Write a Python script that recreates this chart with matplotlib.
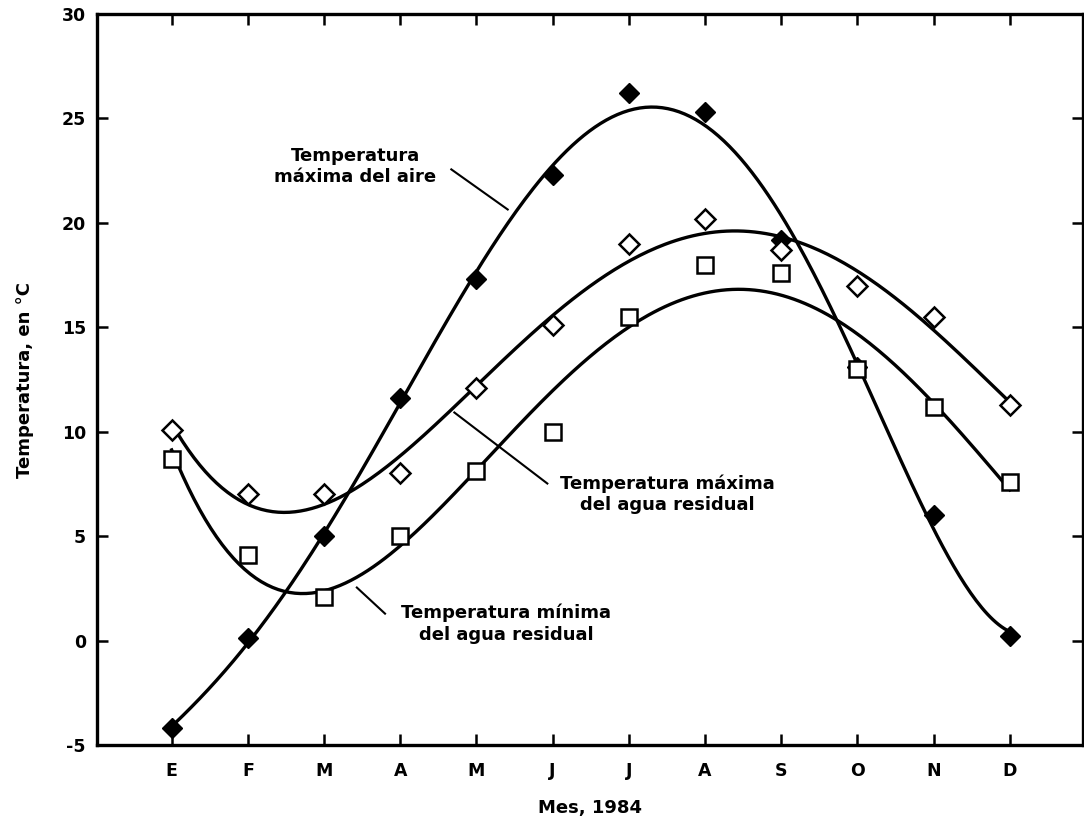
import numpy as np
import matplotlib

matplotlib.use("Agg")

import matplotlib.pyplot as plt

plt.rcParams["font.family"] = ["DejaVu Sans"]
plt.rcParams["font.weight"] = "bold"
plt.rcParams["axes.labelweight"] = "bold"
plt.rcParams["axes.unicode_minus"] = False

meses = ["E", "F", "M", "A", "M", "J", "J", "A", "S", "O", "N", "D"]

# monthly temperatures, 1984 (degC)
aire_max = [-4.2, 0.1, 5.0, 11.6, 17.3, 22.3, 26.2, 25.3, 19.2, 13.1, 6.0, 0.2]
agua_max = [10.1, 7.0, 7.0, 8.0, 12.1, 15.1, 19.0, 20.2, 18.7, 17.0, 15.5, 11.3]
agua_min = [8.7, 4.1, 2.1, 5.0, 8.1, 10.0, 15.5, 18.0, 17.6, 13.0, 11.2, 7.6]

fig = plt.figure(figsize=(10.84, 8.21), dpi=100)
ax = fig.add_axes([97 / 1084, 1 - 745 / 821, (1083 - 97) / 1084, (745 - 14) / 821])

x = np.arange(len(meses))
xs = np.linspace(0, len(meses) - 1, 300)


def curva(y, grado):
    p = np.polyfit(x, y, grado)
    return np.polyval(p, xs)


ax.plot(xs, curva(aire_max, 5), color="black", lw=2.4)
ax.plot(xs, curva(agua_max, 4), color="black", lw=2.4)
ax.plot(xs, curva(agua_min, 4), color="black", lw=2.4)

ax.plot(x, aire_max, "D", ms=10, color="black", zorder=3)
ax.plot(x, agua_max, "D", ms=10, mfc="white", mec="black", mew=1.8, zorder=3)
ax.plot(x, agua_min, "s", ms=11, mfc="white", mec="black", mew=1.8, zorder=3)

ax.set_xlim(-0.98, 11.96)
ax.set_ylim(-5, 30)
ax.set_xticks(x)
ax.set_xticklabels(meses)
ax.set_yticks(range(-5, 31, 5))
ax.tick_params(axis="both", direction="in", length=8, width=1.8, labelsize=12.5,
               top=True, right=True)
ax.tick_params(axis="x", pad=12)
ax.tick_params(axis="y", pad=8)
for s in ax.spines.values():
    s.set_linewidth(2.4)

ax.set_xlabel("Mes, 1984", fontsize=13, labelpad=14)
ax.set_ylabel("Temperatura, en °C", fontsize=13, labelpad=20)

txt = dict(ha="center", va="center", fontsize=13, linespacing=1.25)
ax.text(2.41, 22.7, "Temperatura\nmáxima del aire", **txt)
ax.plot([3.67, 4.41], [22.56, 20.64], color="black", lw=1.5)

ax.text(6.51, 7.0, "Temperatura máxima\ndel agua residual", **txt)
ax.plot([3.71, 4.93], [10.92, 7.52], color="black", lw=1.5)

ax.text(4.39, 0.8, "Temperatura mínima\ndel agua residual", **txt)
ax.plot([2.43, 2.80], [2.54, 1.29], color="black", lw=1.5)

fig.savefig("out.png", dpi=100)
